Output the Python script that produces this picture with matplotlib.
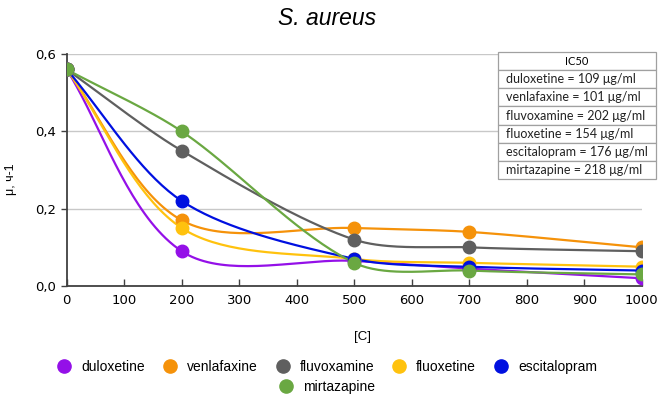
import matplotlib.pyplot as plt
import numpy as np
from matplotlib.lines import Line2D

# concentrations and growth rates
conc = [0, 200, 500, 700, 1000]
names = ['duloxetine', 'venlafaxine', 'fluvoxamine', 'fluoxetine', 'escitalopram', 'mirtazapine']
duloxetine = [0.56, 0.09, 0.065, 0.045, 0.02]
venlafaxine = [0.56, 0.17, 0.15, 0.14, 0.10]
fluvoxamine = [0.56, 0.35, 0.12, 0.10, 0.09]
fluoxetine = [0.56, 0.15, 0.07, 0.06, 0.05]
escitalopram = [0.56, 0.22, 0.07, 0.05, 0.04]
mirtazapine = [0.56, 0.40, 0.06, 0.04, 0.03]
series = [duloxetine, venlafaxine, fluvoxamine, fluoxetine, escitalopram, mirtazapine]
colors = ['#9410e8', '#f5920a', '#5f5f5f', '#ffc20e', '#0010e0', '#6aa842']

ic50_title = 'IC50'
ic50_vals = [109, 101, 202, 154, 176, 218]
yticks = [0.0, 0.2, 0.4, 0.6]
ytick_labels = ['0,0', '0,2', '0,4', '0,6']


def smooth(ax, x, y, tension=0.3, n=40):
    # smoothed line computed in display space, then mapped back to data
    p = ax.transData.transform(np.column_stack([x, y]))
    out = []
    for i in range(len(p) - 1):
        p0 = p[max(i - 1, 0)]
        p1 = p[i]
        p2 = p[i + 1]
        p3 = p[min(i + 2, len(p) - 1)]
        d = np.hypot(*(p2 - p1))
        t1 = p2 - p0
        t2 = p3 - p1
        t1 = t1 / np.hypot(*t1)
        t2 = t2 / np.hypot(*t2)
        c1 = p1 + tension * d * t1
        c2 = p2 - tension * d * t2
        t = np.linspace(0, 1, n)[:, None]
        seg = (1 - t)**3 * p1 + 3 * (1 - t)**2 * t * c1 + 3 * (1 - t) * t**2 * c2 + t**3 * p2
        out.append(seg)
    out = ax.transData.inverted().transform(np.vstack(out))
    return out[:, 0], out[:, 1]


fig = plt.figure(figsize=(6.61, 4.09), dpi=100)
ax = fig.add_axes([0.1009, 0.3007, 0.870, 0.5672])
ax.set_xlim(0, 1000)
ax.set_ylim(0, 0.6)

for name, vals, c in zip(names, series, colors):
    sx, sy = smooth(ax, conc, vals)
    ax.plot(sx, sy, color=c, lw=1.6, zorder=3)
    ax.plot(conc, vals, 'o', color=c, ms=9, zorder=4, label=name)

ax.set_xticks(np.arange(0, 1001, 100))
ax.set_yticks(yticks)
ax.set_yticklabels(ytick_labels)
ax.tick_params(axis='x', direction='in', length=5, width=1, color='#404040', labelsize=9.5, pad=6)
ax.tick_params(axis='y', direction='out', length=4, width=1, color='#404040', labelsize=9.5)
ax.grid(axis='y', color='#c8c8c8', lw=1)
ax.set_axisbelow(True)
for s in ['top', 'right']:
    ax.spines[s].set_visible(False)
for s in ['left', 'bottom']:
    ax.spines[s].set_color('#404040')
    ax.spines[s].set_linewidth(1.3)

fig.text(0.017, 0.562, 'μ, ч-1', rotation=90, ha='center', va='center', fontsize=9,
         family='Liberation Sans')
fig.text(0.548, 0.176, '[C]', ha='center', va='center', fontsize=9.5, family='Liberation Sans')
fig.text(0.495, 0.955, 'S. aureus', ha='center', va='center', fontsize=16.5,
         style='italic', family='Liberation Sans')

# IC50 table
cells = [[ic50_title]] + [[f'{n} = {v} μg/ml'] for n, v in zip(names, ic50_vals)]
tab = ax.table(cellText=cells, cellLoc='left', bbox=[0.7496, 0.4612, 0.2748, 0.5474], zorder=5)
tab.auto_set_font_size(False)
for (r, c), cell in tab.get_celld().items():
    cell.set_edgecolor('#a0a0a0')
    cell.set_linewidth(0.9)
    cell.set_facecolor('white')
    cell.get_text().set_family('Lato')
    if r == 0:
        cell.get_text().set_fontsize(8)
        cell.get_text().set_ha('center')
        cell._loc = 'center'
    else:
        cell.get_text().set_fontsize(9)
        cell.get_text().set_color('#222222')
        cell.PAD = 0.05

# legend: five on the first row, mirtazapine centered below
handles = [Line2D([], [], marker='o', ls='', color=c, ms=9.5) for c in colors]
lprop = {'family': 'Liberation Sans', 'size': 10}
fig.legend(handles[:5], names[:5], ncol=5, loc='center', bbox_to_anchor=(0.495, 0.103),
           frameon=False, prop=lprop, handletextpad=0.72, columnspacing=1.3, handlelength=1.0)
fig.legend(handles[5:], names[5:], ncol=1, loc='center', bbox_to_anchor=(0.495, 0.054),
           frameon=False, prop=lprop, handletextpad=0.72, handlelength=1.0)

fig.savefig('out.png', dpi=100)
